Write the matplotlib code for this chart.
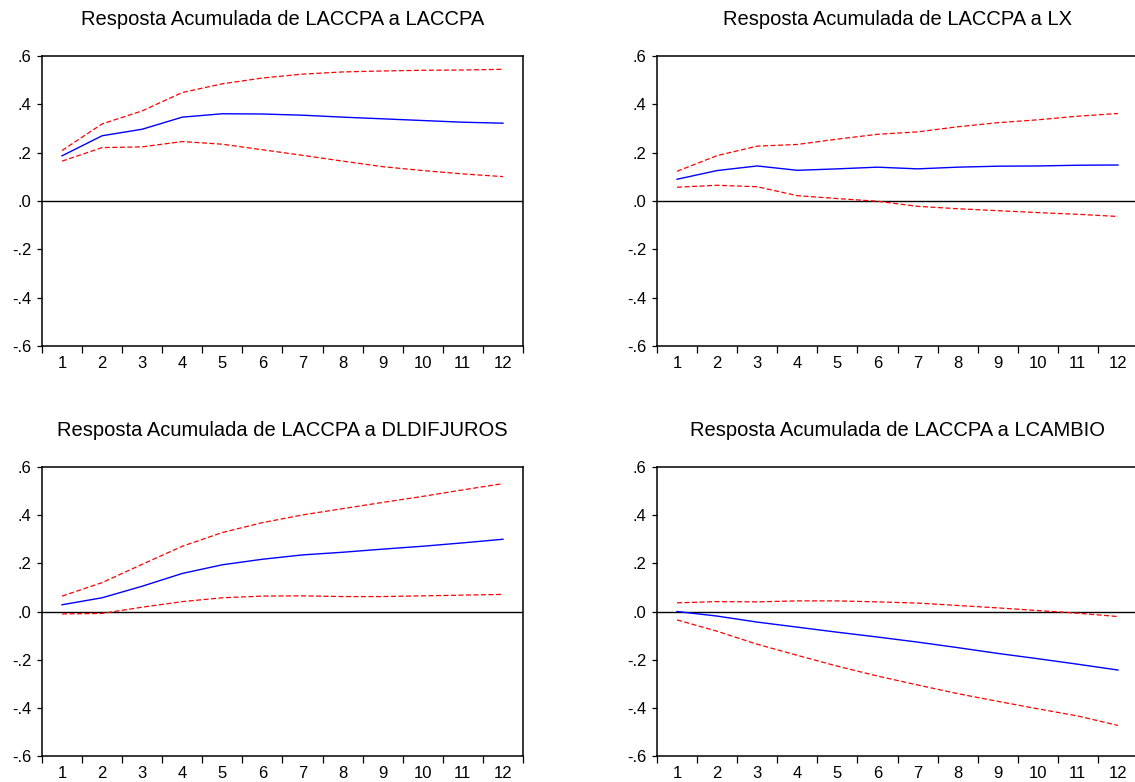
import matplotlib
matplotlib.use("Agg")
import matplotlib.pyplot as plt
from matplotlib.ticker import FixedLocator, FixedFormatter

plt.rcParams["font.family"] = ["Liberation Sans", "DejaVu Sans"]

periods = list(range(1, 13))

titles = [
    "Resposta Acumulada de LACCPA a LACCPA",
    "Resposta Acumulada de LACCPA a LX",
    "Resposta Acumulada de LACCPA a DLDIFJUROS",
    "Resposta Acumulada de LACCPA a LCAMBIO",
]

# accumulated response + 2 s.e. bands
resp_laccpa = [0.187, 0.270, 0.297, 0.347, 0.361, 0.360, 0.355, 0.347, 0.340, 0.333, 0.326, 0.322]
upper_laccpa = [0.209, 0.319, 0.373, 0.449, 0.485, 0.509, 0.525, 0.534, 0.538, 0.541, 0.542, 0.545]
lower_laccpa = [0.165, 0.221, 0.224, 0.246, 0.235, 0.212, 0.189, 0.165, 0.142, 0.126, 0.112, 0.101]

resp_lx = [0.090, 0.126, 0.145, 0.127, 0.133, 0.140, 0.133, 0.140, 0.144, 0.145, 0.148, 0.149]
upper_lx = [0.123, 0.188, 0.227, 0.234, 0.256, 0.276, 0.286, 0.307, 0.324, 0.336, 0.351, 0.362]
lower_lx = [0.057, 0.065, 0.059, 0.022, 0.010, -0.001, -0.022, -0.032, -0.040, -0.048, -0.055, -0.064]

resp_juros = [0.028, 0.057, 0.105, 0.158, 0.194, 0.217, 0.235, 0.246, 0.259, 0.271, 0.285, 0.300]
upper_juros = [0.064, 0.120, 0.196, 0.271, 0.328, 0.369, 0.401, 0.427, 0.453, 0.478, 0.505, 0.531]
lower_juros = [-0.010, -0.008, 0.018, 0.041, 0.057, 0.064, 0.065, 0.062, 0.062, 0.065, 0.068, 0.071]

resp_cambio = [0.000, -0.019, -0.044, -0.065, -0.086, -0.106, -0.127, -0.150, -0.174, -0.196, -0.219, -0.243]
upper_cambio = [0.036, 0.041, 0.040, 0.044, 0.044, 0.040, 0.035, 0.025, 0.015, 0.004, -0.007, -0.021]
lower_cambio = [-0.035, -0.082, -0.136, -0.182, -0.227, -0.268, -0.305, -0.341, -0.373, -0.404, -0.434, -0.473]

y_ticks = [-0.6, -0.4, -0.2, 0.0, 0.2, 0.4, 0.6]
y_labels = ["-.6", "-.4", "-.2", ".0", ".2", ".4", ".6"]

panels = [
    (resp_laccpa, upper_laccpa, lower_laccpa),
    (resp_lx, upper_lx, lower_lx),
    (resp_juros, upper_juros, lower_juros),
    (resp_cambio, upper_cambio, lower_cambio),
]

W, H = 1135, 782
fig = plt.figure(figsize=(W / 100, H / 100), dpi=100)

# axes boxes in pixels: left, top, width, height
boxes = [(42, 56, 481, 290), (657, 56, 481, 290), (42, 467, 481, 289), (657, 467, 481, 289)]

for (l, t, w, h), title, (resp, up, lo) in zip(boxes, titles, panels):
    ax = fig.add_axes([l / W, 1 - (t + h) / H, w / W, h / H])
    ax.axhline(0, color="black", lw=1.0)
    ax.plot(periods, up, color="red", lw=0.9, ls=(0, (4, 2)))
    ax.plot(periods, lo, color="red", lw=0.9, ls=(0, (4, 2)))
    ax.plot(periods, resp, color="blue", lw=1.0)
    ax.set_xlim(0.5, 12.5)
    ax.set_ylim(-0.6, 0.6)
    ax.xaxis.set_major_locator(FixedLocator(periods))
    ax.xaxis.set_major_formatter(FixedFormatter([str(p) for p in periods]))
    ax.xaxis.set_minor_locator(FixedLocator([p + 0.5 for p in range(0, 13)]))
    ax.tick_params(axis="x", which="major", length=0, pad=7, labelsize=12)
    ax.tick_params(axis="x", which="minor", length=5, width=0.9, direction="out")
    ax.set_yticks(y_ticks)
    ax.set_yticklabels(y_labels)
    ax.tick_params(axis="y", length=3.5, width=0.9, direction="out", pad=4, labelsize=12)
    for s in ax.spines.values():
        s.set_linewidth(1.1)
    ax.set_title(title, fontsize=14.5, pad=22)

fig.savefig("out.png", dpi=100)
